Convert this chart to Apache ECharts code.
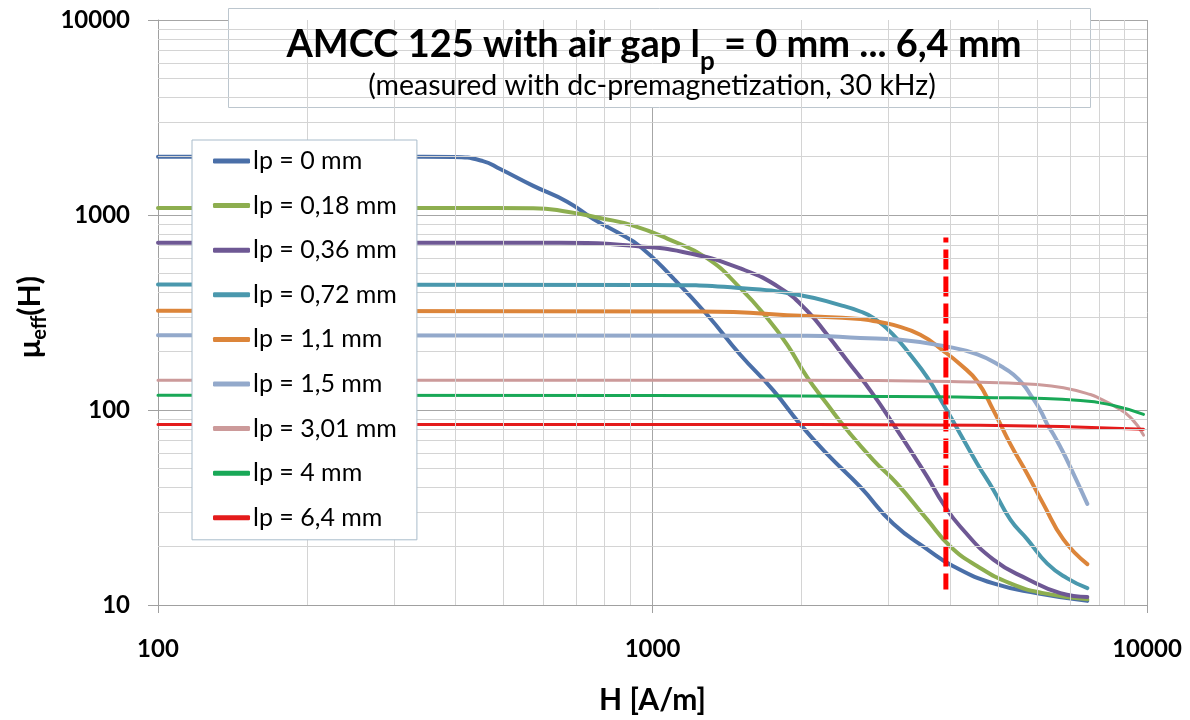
<!DOCTYPE html>
<html>
<head>
<meta charset="utf-8">
<script src="https://cdn.jsdelivr.net/npm/echarts@6/dist/echarts.min.js"></script>
<style>
html,body{margin:0;padding:0;background:#fff;}
#chart{width:1190px;height:720px;}
</style>
</head>
<body>
<div id="chart"></div>
<script>
// ---- data (H [A/m], mu_eff) ----
const seriesNames = ['lp = 0 mm','lp = 0,18 mm','lp = 0,36 mm','lp = 0,72 mm','lp = 1,1 mm','lp = 1,5 mm','lp = 3,01 mm','lp = 4 mm','lp = 6,4 mm'];
const lp0 = [[100,1990],[300,1990],[395,1985],[454,1890],[492,1720],[574,1410],[672,1170],[758,957],[849,815],[944,690],[1102,473],[1291,307],[1505,192],[1755,126],[1990,84.4],[2256,59.4],[2632,40.3],[3069,26.1],[3595,19.3],[4058,15.8],[4892,12.9],[6001,11.5],[7574,10.5]];
const lp018 = [[100,1086],[400,1086],[574,1084],[672,1040],[783,965],[914,883],[1071,757],[1291,599],[1505,422],[1706,296],[1873,216],[2056,147],[2256,107],[2477,78.7],[2796,55.4],[3126,41.8],[3595,27.4],[4002,19.95],[4539,15.8],[5293,12.9],[6170,11.5],[7574,10.7]];
const lp036 = [[100,720],[650,720],[944,690],[1192,635],[1505,532],[1813,422],[2056,322],[2256,243],[2477,179],[2796,120],[3069,84.4],[3321,62.2],[3595,45.4],[3874,33],[4194,25.2],[4892,17.1],[5727,13.6],[6681,11.5],[7574,11.0]];
const lp072 = [[100,440],[1000,438],[1505,422],[1991,388],[2397,345],[2632,320],[2796,297],[3069,243],[3321,192],[3595,147],[3874,107],[4194,75.2],[4539,52.9],[4892,38.9],[5293,27.4],[5727,21.7],[6286,16.3],[6900,13.7],[7574,12.2]];
const lp11 = [[100,323],[1250,320],[2056,303],[2632,293],[2796,286],[3069,273],[3480,243],[3874,201],[4194,171],[4539,140],[4892,99.5],[5293,66.8],[5727,47],[6170,33],[6776,21.7],[7574,16.2]];
const lp15 = [[100,242],[2056,240],[2632,234],[3170,229],[3874,213],[4539,193],[5122,165],[5367,152],[5623,135],[5808,120],[6081,100],[6286,84.4],[6466,75.2],[6681,64.6],[6998,51],[7574,33]];
const lp301 = [[100,142],[2000,142],[4539,139],[6000,135],[6776,130],[7685,120],[8050,114],[8551,105.5],[9256,91.7],[9840,74.3]];
const lp4 = [[100,119],[1000,118.5],[2500,117.5],[4600,116],[7333,112],[8551,105.5],[9840,95]];
const lp64 = [[100,84.3],[1000,84.3],[4600,83.5],[9840,79.7]];
const limitLine = [[3920,766],[3920,12]];
// tick values
const xMinorTicks = [200,300,400,500,600,700,800,900,2000,3000,4000,5000,6000,7000,8000,9000];
const yMinorTicks = [20,30,40,50,60,70,80,90,200,300,400,500,600,700,800,900,2000,3000,4000,5000,6000,7000,8000,9000];

const seriesData = [lp0, lp018, lp036, lp072, lp11, lp15, lp301, lp4, lp64];
const colors = ['#4A6FA8','#8DAE4F','#6E5894','#4A98AD','#DC853A','#93A9CB','#CC9A9A','#19A857','#E41B1B'];
const widths = [4,4,4,4,4,4,3,3,3];
const FONT = 'Lato';

const chart = echarts.init(document.getElementById('chart'), null, {renderer:'canvas'});

const series = [];
series.push({
  name: '_grid', type: 'line', data: [[100,10]], symbol: 'none', silent: true, z: 1,
  lineStyle: {opacity: 0},
  markLine: {
    silent: true, symbol: ['none','none'], label: {show:false}, animation: false,
    lineStyle: {color: '#d4d4d4', width: 1, type: 'solid'},
    emphasis: {disabled: true},
    data: xMinorTicks.map(v => ({xAxis: v})).concat(yMinorTicks.map(v => ({yAxis: v})))
  }
});
seriesNames.forEach((n, i) => {
  series.push({
    name: n, type: 'line', data: seriesData[i], symbol: 'none', showSymbol: false, smooth: 0.5,
    z: 3, color: colors[i],
    lineStyle: {color: colors[i], width: widths[i], cap: 'round', join: 'round'}
  });
});
series.push({
  name: '_limit', type: 'line', data: limitLine, symbol: 'none', z: 4,
  lineStyle: {color: '#FF0000', width: 5, type: [20,7], dashOffset: 15, cap: 'butt'}
});

const option = {
  animation: false,
  backgroundColor: '#fff',
  grid: {left: 158, right: 43, top: 20, bottom: 111, containLabel: false},
  xAxis: {
    type: 'log', logBase: 10, min: 100, max: 10000,
    axisLine: {show: true, lineStyle: {color: '#a0a0a0', width: 1}},
    axisTick: {show: true, length: 8, inside: false, lineStyle: {color: '#a0a0a0'}},
    axisLabel: {color: '#000', fontFamily: FONT, fontWeight: 'bold', fontSize: 24, margin: 32,
      formatter: v => String(Math.round(v))},
    splitLine: {show: true, lineStyle: {color: '#a6a6a6', width: 1}},
    name: 'H [A/m]', nameLocation: 'middle', nameGap: 80,
    nameTextStyle: {color: '#000', fontFamily: FONT, fontWeight: 'bold', fontSize: 30}
  },
  yAxis: {
    type: 'log', logBase: 10, min: 10, max: 10000,
    axisLine: {show: true, lineStyle: {color: '#a0a0a0', width: 1}},
    axisTick: {show: true, length: 10, inside: false, lineStyle: {color: '#a0a0a0'}},
    axisLabel: {color: '#000', fontFamily: FONT, fontWeight: 'bold', fontSize: 24, margin: 28,
      formatter: v => String(Math.round(v))},
    splitLine: {show: true, lineStyle: {color: '#a6a6a6', width: 1}}
  },
  legend: {
    data: seriesNames.map(n => ({name: n, icon: 'roundRect'})),
    orient: 'vertical', left: 192, top: 140,
    backgroundColor: '#fff', borderColor: '#a9bccb', borderWidth: 1, borderRadius: 0,
    padding: [8, 20, 9, 21],
    itemWidth: 37, itemHeight: 5, itemGap: 18.6,
    textStyle: {color: '#000', fontFamily: FONT, fontSize: 25, lineHeight: 26, padding: [0,0,0,-2]},
    selectedMode: false, z: 6
  },
  graphic: [
    {type: 'rect', left: 228, top: 8, z: 5, shape: {width: 862, height: 99},
     style: {fill: '#fff', stroke: '#bcc6ce', lineWidth: 1}},
    {type: 'text', x: 654, y: 45, z: 6,
     style: {text: '{a|AMCC 125 with air gap l}{s|p}{a| = 0 mm ... 6,4 mm}', align: 'center', verticalAlign: 'middle',
       rich: {
         a: {fontFamily: FONT, fontWeight: 'bold', fontSize: 38, lineHeight: 60, fill: '#000', verticalAlign: 'middle'},
         s: {fontFamily: FONT, fontWeight: 'bold', fontSize: 26, lineHeight: 26, fill: '#000', verticalAlign: 'bottom'}
       }}},
    {type: 'text', x: 652, y: 86, z: 6,
     style: {text: '(measured with dc-premagnetization, 30 kHz)', align: 'center', verticalAlign: 'middle',
       fontFamily: FONT, fontSize: 28.5, fill: '#000'}},
    {type: 'text', x: 30, y: 317, z: 6, rotation: Math.PI/2,
     style: {text: '{a|μ}{s|eff}{a|(H)}', align: 'center', verticalAlign: 'middle',
       rich: {
         a: {fontFamily: FONT, fontWeight: 'bold', fontSize: 30, lineHeight: 40, fill: '#000', verticalAlign: 'middle'},
         s: {fontFamily: FONT, fontWeight: 'bold', fontSize: 20, lineHeight: 20, fill: '#000', verticalAlign: 'bottom'}
       }}}
  ],
  series: series
};
chart.setOption(option);
</script>
</body>
</html>
